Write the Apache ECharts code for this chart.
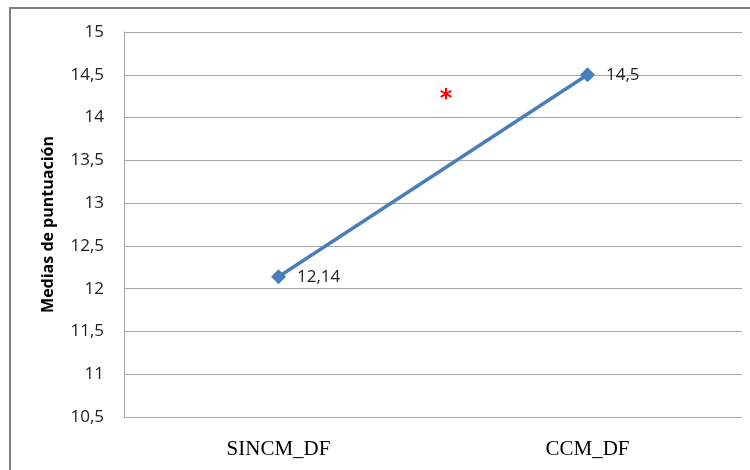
<!DOCTYPE html>
<html>
<head>
<meta charset="utf-8">
<script src="https://cdn.jsdelivr.net/npm/echarts@6/dist/echarts.min.js"></script>
<style>
  html, body { margin: 0; padding: 0; background: #fff; }
  #chart { width: 750px; height: 470px; }
</style>
</head>
<body>
<div id="chart"></div>
<script>
// Mean scores for both conditions
const categories = ['SINCM_DF', 'CCM_DF'];
const means = [12.14, 14.5];
const yTicks = { min: 10.5, max: 15, step: 0.5 };
const axisTitle = 'Medias de puntuación';
const significanceMark = '*';

const comma = v => String(v).replace('.', ',');

const chart = echarts.init(document.getElementById('chart'));
chart.setOption({
  backgroundColor: '#ffffff',
  animation: false,
  grid: { left: 124, top: 32, right: 8, bottom: 53 },
  xAxis: {
    type: 'category',
    data: categories,
    boundaryGap: true,
    axisLine: { show: false },
    axisTick: { show: false },
    axisLabel: {
      fontFamily: 'Liberation Serif',
      fontSize: 21,
      color: '#000',
      margin: 22
    }
  },
  yAxis: {
    type: 'value',
    min: yTicks.min,
    max: yTicks.max,
    interval: yTicks.step,
    name: axisTitle,
    nameLocation: 'middle',
    nameGap: 68,
    nameTextStyle: {
      fontFamily: 'Open Sans',
      fontWeight: 'bold',
      fontSize: 16,
      color: '#000'
    },
    axisLine: { show: true, lineStyle: { color: '#a6a6a6', width: 1 } },
    axisTick: { show: false },
    splitLine: { lineStyle: { color: '#a6a6a6', width: 1 } },
    axisLabel: {
      fontFamily: 'Open Sans',
      fontSize: 17,
      color: '#222',
      margin: 20,
      formatter: v => comma(v)
    }
  },
  series: [{
    type: 'line',
    data: means,
    symbol: 'diamond',
    symbolSize: 15,
    lineStyle: { color: '#4a7ebb', width: 3.5 },
    itemStyle: { color: '#4a7ebb' },
    label: {
      show: true,
      position: 'right',
      distance: 11,
      fontFamily: 'Open Sans',
      fontSize: 17,
      color: '#222',
      formatter: p => comma(p.value)
    }
  }],
  graphic: [
    {
      type: 'rect',
      shape: { x: 10, y: 8, width: 760, height: 480 },
      style: { fill: 'none', stroke: '#7f7f7f', lineWidth: 2 },
      silent: true
    },
    {
      type: 'text',
      x: 446,
      y: 100,
      style: {
        text: significanceMark,
        fill: '#ff0000',
        fontFamily: 'DejaVu Sans',
        fontWeight: 'bold',
        fontSize: 24,
        align: 'center',
        verticalAlign: 'middle'
      }
    }
  ]
});
</script>
</body>
</html>
